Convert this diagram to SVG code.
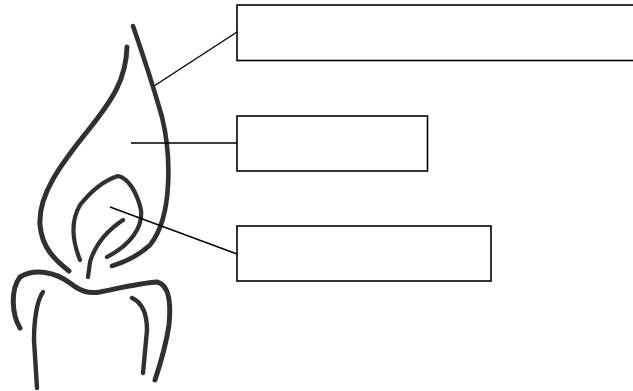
<svg xmlns="http://www.w3.org/2000/svg" width="633" height="391" viewBox="0 0 633 391">
<style>
.ink{fill:none;stroke:#303030;stroke-linecap:round;stroke-linejoin:round}
.box{fill:#fff;stroke:#000;stroke-width:1.6}
.lead{stroke:#000;stroke-width:1.4;fill:none}
</style>
<rect width="633" height="391" fill="#fff"/>
<g id="candle">
<path class="ink" stroke-width="4.6" d="M133,26 Q150,75 162,117 Q170,150 168,185 Q166,225 150,245 Q135,259 112,266"/>
<path class="ink" stroke-width="5" d="M127,47 C126,80 112,100 90,128 C60,165 38,195 40,225 C42,248 55,260 69,271"/>
<path class="ink" stroke-width="4.2" d="M80,260 C72,240 70,222 80,205 C92,190 105,180 118,176 C128,178 137,192 141,210 C143,228 130,245 107,257"/>
<path class="ink" stroke-width="4.2" d="M123,220 C108,230 95,245 90,262 L88,277"/>
<path class="ink" stroke-width="5" d="M20,328 C12,315 10,290 20,277 C35,268 55,272 70,283 C80,291 88,294 100,292 C120,288 140,283 157,282 C170,285 171,305 169,325 C166,345 160,365 155,380"/>
<path class="ink" stroke-width="4.4" d="M43,292 C37,300 34,320 34,340 L37,388"/>
<path class="ink" stroke-width="4.4" d="M132,298 C143,303 147,315 147,330 L143,373"/>
</g>
<g id="connectors">
<line class="lead" x1="154" y1="86" x2="237" y2="32"/>
<line class="lead" x1="131" y1="143" x2="237" y2="143"/>
<line class="lead" x1="110" y1="207" x2="237" y2="254"/>
</g>
<g id="box-outer"><rect class="box" x="237" y="5" width="410" height="55.5"/></g>
<g id="box-middle"><rect class="box" x="237" y="116" width="190.5" height="55"/></g>
<g id="box-inner"><rect class="box" x="237" y="226" width="254" height="55"/></g>
</svg>
